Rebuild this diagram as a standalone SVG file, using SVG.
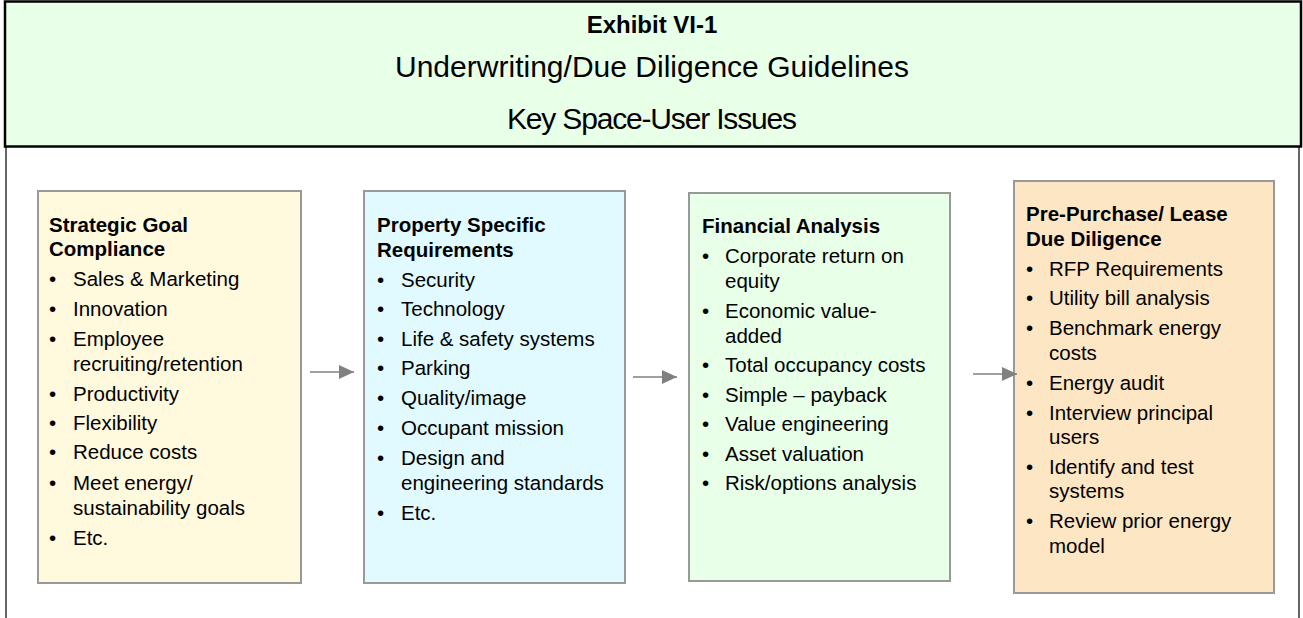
<svg xmlns="http://www.w3.org/2000/svg" width="1303" height="618" viewBox="0 0 1303 618">
<style>
  text { font-family: "Liberation Sans", Arial, sans-serif; fill: #000; }
  .t1 { font-size: 24px; font-weight: bold; text-anchor: middle; }
  .t2 { font-size: 30px; text-anchor: middle; }
  .h { font-size: 20.5px; font-weight: bold; }
  .i { font-size: 20.5px; }
  .box { stroke: #999999; stroke-width: 2; }
  .conn { stroke: #808080; stroke-width: 1.5; fill: none; }
</style>
<defs>
  <marker id="arr" markerWidth="16" markerHeight="14" refX="15" refY="7" orient="auto" markerUnits="userSpaceOnUse">
    <path d="M0,0 L15,7 L0,14 Z" fill="#808080"/>
  </marker>
</defs>
<rect x="0" y="0" width="1303" height="618" fill="#ffffff"/>
<g id="frame">
  <line x1="6" y1="146" x2="6" y2="618" stroke="#333" stroke-width="1.5"/>
  <line x1="1299" y1="146" x2="1299" y2="618" stroke="#333" stroke-width="1.5"/>
</g>
<g id="header">
  <rect x="5" y="1.5" width="1296" height="145" fill="#E8FFE8" stroke="#000" stroke-width="2.5"/>
  <text class="t1" x="652" y="33">Exhibit VI-1</text>
  <text class="t2" x="652" y="77" textLength="514" lengthAdjust="spacing">Underwriting/Due Diligence Guidelines</text>
  <text class="t2" x="652" y="129" textLength="290" lengthAdjust="spacing">Key Space-User Issues</text>
</g>
<g id="node1">
  <rect class="box" x="38" y="191" width="263" height="392" fill="#FFF9DD"/>
  <text class="h" x="49" y="232">Strategic Goal</text>
  <text class="h" x="49" y="256">Compliance</text>
  <text class="i" x="49" y="286">•</text><text class="i" x="73" y="286">Sales &amp; Marketing</text>
  <text class="i" x="49" y="316">•</text><text class="i" x="73" y="316">Innovation</text>
  <text class="i" x="49" y="346">•</text><text class="i" x="73" y="346">Employee</text>
  <text class="i" x="73" y="371">recruiting/retention</text>
  <text class="i" x="49" y="401">•</text><text class="i" x="73" y="401">Productivity</text>
  <text class="i" x="49" y="430">•</text><text class="i" x="73" y="430">Flexibility</text>
  <text class="i" x="49" y="459">•</text><text class="i" x="73" y="459">Reduce costs</text>
  <text class="i" x="49" y="490">•</text><text class="i" x="73" y="490">Meet energy/</text>
  <text class="i" x="73" y="515">sustainability goals</text>
  <text class="i" x="49" y="545">•</text><text class="i" x="73" y="545">Etc.</text>
</g>
<g id="node2">
  <rect class="box" x="364" y="191" width="261" height="392" fill="#E0FAFF"/>
  <text class="h" x="377" y="232">Property Specific</text>
  <text class="h" x="377" y="257">Requirements</text>
  <text class="i" x="377" y="287">•</text><text class="i" x="401" y="287">Security</text>
  <text class="i" x="377" y="316">•</text><text class="i" x="401" y="316">Technology</text>
  <text class="i" x="377" y="346">•</text><text class="i" x="401" y="346">Life &amp; safety systems</text>
  <text class="i" x="377" y="375">•</text><text class="i" x="401" y="375">Parking</text>
  <text class="i" x="377" y="405">•</text><text class="i" x="401" y="405">Quality/image</text>
  <text class="i" x="377" y="435">•</text><text class="i" x="401" y="435">Occupant mission</text>
  <text class="i" x="377" y="465">•</text><text class="i" x="401" y="465">Design and</text>
  <text class="i" x="401" y="490">engineering standards</text>
  <text class="i" x="377" y="520">•</text><text class="i" x="401" y="520">Etc.</text>
</g>
<g id="node3">
  <rect class="box" x="689" y="193" width="261" height="388" fill="#E8FFE8"/>
  <text class="h" x="702" y="233">Financial Analysis</text>
  <text class="i" x="702" y="263">•</text><text class="i" x="725" y="263">Corporate return on</text>
  <text class="i" x="725" y="288">equity</text>
  <text class="i" x="702" y="318">•</text><text class="i" x="725" y="318">Economic value-</text>
  <text class="i" x="725" y="343">added</text>
  <text class="i" x="702" y="372">•</text><text class="i" x="725" y="372">Total occupancy costs</text>
  <text class="i" x="702" y="402">•</text><text class="i" x="725" y="402">Simple – payback</text>
  <text class="i" x="702" y="431">•</text><text class="i" x="725" y="431">Value engineering</text>
  <text class="i" x="702" y="461">•</text><text class="i" x="725" y="461">Asset valuation</text>
  <text class="i" x="702" y="490">•</text><text class="i" x="725" y="490">Risk/options analysis</text>
</g>
<g id="node4">
  <rect class="box" x="1014" y="181" width="260" height="412" fill="#FDE6C3"/>
  <text class="h" x="1026" y="221">Pre-Purchase/ Lease</text>
  <text class="h" x="1026" y="246">Due Diligence</text>
  <text class="i" x="1026" y="276">•</text><text class="i" x="1049" y="276">RFP Requirements</text>
  <text class="i" x="1026" y="305">•</text><text class="i" x="1049" y="305">Utility bill analysis</text>
  <text class="i" x="1026" y="335">•</text><text class="i" x="1049" y="335">Benchmark energy</text>
  <text class="i" x="1049" y="360">costs</text>
  <text class="i" x="1026" y="390">•</text><text class="i" x="1049" y="390">Energy audit</text>
  <text class="i" x="1026" y="420">•</text><text class="i" x="1049" y="420">Interview principal</text>
  <text class="i" x="1049" y="444">users</text>
  <text class="i" x="1026" y="474">•</text><text class="i" x="1049" y="474">Identify and test</text>
  <text class="i" x="1049" y="498">systems</text>
  <text class="i" x="1026" y="528">•</text><text class="i" x="1049" y="528">Review prior energy</text>
  <text class="i" x="1049" y="553">model</text>
</g>
<g id="connectors">
  <line class="conn" x1="310" y1="372" x2="354" y2="372" marker-end="url(#arr)"/>
  <line class="conn" x1="633" y1="377" x2="677" y2="377" marker-end="url(#arr)"/>
  <line class="conn" x1="973" y1="374" x2="1017" y2="374" marker-end="url(#arr)"/>
</g>
</svg>
